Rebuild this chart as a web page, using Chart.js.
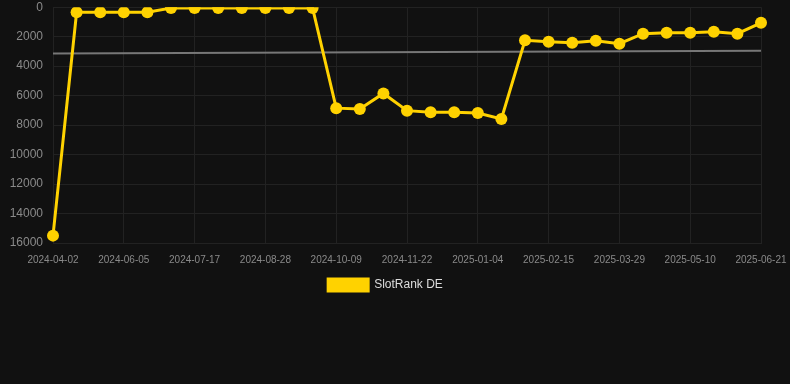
<!DOCTYPE html>
<html>
<head>
<meta charset="utf-8">
<script src="https://cdn.jsdelivr.net/npm/chart.js@4"></script>
<style>
    body { margin: 0; background: #111111; }
    #wrap { width: 790px; height: 301px; position: relative; }
</style>
</head>
<body>
<div id="wrap"><canvas id="rankChart"></canvas></div>
<script>
var labels = ['2024-04-02', '2024-05-08', '2024-05-22', '2024-06-05', '2024-06-19', '2024-07-03',
    '2024-07-17', '2024-07-31', '2024-08-14', '2024-08-28', '2024-09-11', '2024-09-25',
    '2024-10-09', '2024-10-24', '2024-11-08', '2024-11-22', '2024-12-06', '2024-12-20',
    '2025-01-04', '2025-01-18', '2025-02-01', '2025-02-15', '2025-03-01', '2025-03-15',
    '2025-03-29', '2025-04-12', '2025-04-26', '2025-05-10', '2025-05-24', '2025-06-07',
    '2025-06-21'];
var rankValues = [15500, 350, 340, 350, 340, 60, 60, 60, 60, 60, 60, 60,
    6850, 6910, 5850, 7020, 7130, 7130, 7180, 7580,
    2250, 2340, 2410, 2270, 2480, 1800, 1730, 1730, 1670, 1800, 1060];
var trendStart = 3150;
var trendEnd = 2950;
var yTicks = { min: 0, max: 16000, step: 2000 };

var ctx = document.getElementById('rankChart').getContext('2d');
var rankChart = new Chart(ctx, {
    type: 'line',
    data: {
        labels: labels,
        datasets: [
            {
                label: 'SlotRank DE',
                data: rankValues,
                borderColor: '#ffd200',
                backgroundColor: '#ffd200',
                borderWidth: 3,
                pointRadius: 6,
                pointBackgroundColor: '#ffd200',
                pointBorderWidth: 0,
                tension: 0
            },
            {
                label: 'trend',
                data: [{ x: labels[0], y: trendStart }, { x: labels[labels.length - 1], y: trendEnd }],
                borderColor: '#777777',
                borderWidth: 2,
                pointRadius: 0,
                tension: 0
            }
        ]
    },
    options: {
        responsive: true,
        maintainAspectRatio: false,
        animation: false,
        layout: { autoPadding: false, padding: { left: 10, right: 29, top: 0, bottom: 0 } },
        scales: {
            x: {
                grid: { color: '#222222', drawTicks: true, tickLength: 11, tickColor: 'rgba(0,0,0,0)' },
                border: { color: '#222222' },
                ticks: {
                    color: '#8a8a8a',
                    font: { family: 'Liberation Sans, Arial', size: 10 },
                    maxRotation: 0,
                    autoSkip: true,
                    padding: 0
                }
            },
            y: {
                reverse: true,
                min: yTicks.min,
                max: yTicks.max,
                afterFit: function (scale) { scale.width = 43; },
                grid: { color: '#222222', drawTicks: true, tickLength: 10, tickColor: 'rgba(0,0,0,0)' },
                border: { color: '#222222' },
                ticks: {
                    stepSize: yTicks.step,
                    color: '#8a8a8a',
                    font: { family: 'Liberation Sans, Arial', size: 12 },
                    padding: 0,
                    callback: function (value) { return String(value); }
                }
            }
        },
        plugins: {
            legend: {
                position: 'bottom',
                labels: {
                    color: '#dddddd',
                    boxWidth: 40,
                    boxHeight: 12,
                    padding: 13,
                    font: { family: 'Liberation Sans, Arial', size: 12 },
                    filter: function (item) { return item.text !== 'trend'; }
                }
            },
            tooltip: { enabled: false }
        }
    }
});
</script>
</body>
</html>
